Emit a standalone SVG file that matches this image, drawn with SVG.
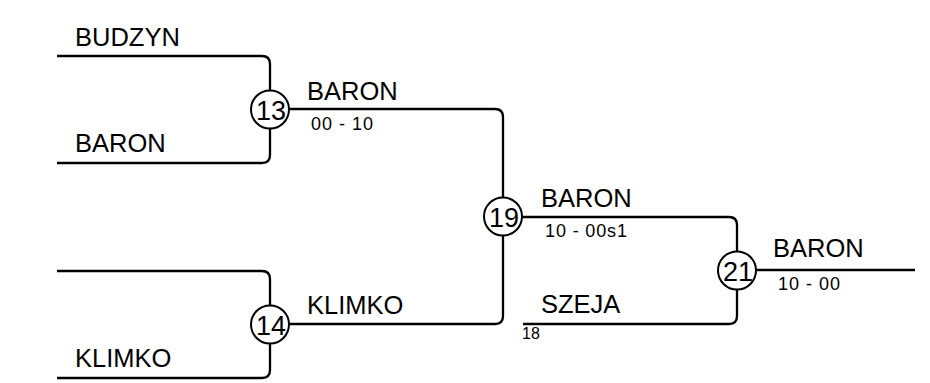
<svg xmlns="http://www.w3.org/2000/svg" width="930" height="383" viewBox="0 0 930 383">
<style>
.ln{fill:none;stroke:#000;stroke-width:2.3;stroke-linejoin:round}
.nd{fill:#fff;stroke:#000;stroke-width:2}
.nm{font-family:"Liberation Sans",Arial,sans-serif;font-size:25.5px;fill:#000}
.sc{font-family:"Liberation Sans",Arial,sans-serif;font-size:18px;fill:#000}
.sm{font-family:"Liberation Sans",Arial,sans-serif;font-size:16px;fill:#000}
.num{font-family:"Liberation Sans",Arial,sans-serif;font-size:27px;fill:#000;text-anchor:middle}
</style>
<rect width="930" height="383" fill="#fff"/>
<g id="connectors">
<path class="ln" d="M57,56 H262 Q270,56 270,64 V155 Q270,163 262,163 H57"/>
<path class="ln" d="M57,271 H262 Q270,271 270,279 V370 Q270,378 262,378 H57"/>
<path class="ln" d="M270,109 H495 Q503,109 503,117 V316 Q503,324 495,324 H270"/>
<path class="ln" d="M503,217 H729 Q737,217 737,225 V316 Q737,324 729,324 H523"/>
<path class="ln" d="M737,270 H915"/>
</g>
<g id="labels">
<text class="nm" x="75" y="46">BUDZYN</text>
<text class="nm" x="75" y="152">BARON</text>
<text class="nm" x="75" y="367">KLIMKO</text>
<text class="nm" x="307" y="100">BARON</text>
<text class="sc" x="311" y="129.5" textLength="62">00 - 10</text>
<text class="nm" x="307" y="314">KLIMKO</text>
<text class="nm" x="541" y="207">BARON</text>
<text class="sc" x="545" y="237" textLength="82">10 - 00s1</text>
<text class="nm" x="541" y="313">SZEJA</text>
<text class="sm" x="522" y="339">18</text>
<text class="nm" x="773" y="257">BARON</text>
<text class="sc" x="778" y="290" textLength="62">10 - 00</text>
</g>
<g id="n13"><circle class="nd" cx="270" cy="109.5" r="19"/><text class="num" x="271" y="120">13</text></g>
<g id="n14"><circle class="nd" cx="270" cy="324.5" r="19"/><text class="num" x="271" y="335">14</text></g>
<g id="n19"><circle class="nd" cx="503" cy="216.5" r="19"/><text class="num" x="504" y="227">19</text></g>
<g id="n21"><circle class="nd" cx="737" cy="270.5" r="19"/><text class="num" x="738" y="281">21</text></g>
</svg>
